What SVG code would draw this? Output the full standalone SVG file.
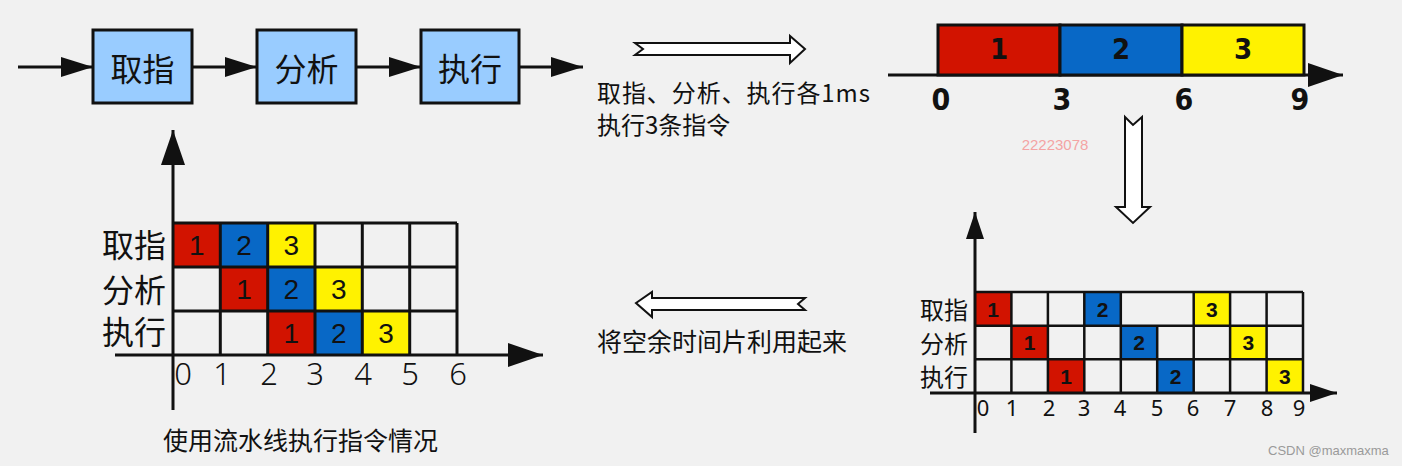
<svg xmlns="http://www.w3.org/2000/svg" width="1402" height="466" viewBox="0 0 1402 466">
<style>
.cjk{font-family:"Noto Sans CJK SC","Noto Sans",sans-serif;fill:#111}
.box{fill:#99ccff;stroke:#111;stroke-width:3}
.ln{stroke:#111;stroke-width:3;fill:none}
.gl{stroke:#111;stroke-width:3;fill:none}
.gr{stroke:#111;stroke-width:2.5;fill:none}
.hol{fill:#fff;stroke:#111;stroke-width:2;stroke-linejoin:miter}
.r{fill:#d21300}.b{fill:#0868c6}.y{fill:#fff200}
.num{font-family:"Liberation Sans",Arial,sans-serif;fill:#111;text-anchor:middle;dominant-baseline:central}
.cn{font-family:"DejaVu Sans Condensed","Liberation Sans",sans-serif;fill:#111;text-anchor:middle;dominant-baseline:central}
</style>
<defs>
<marker id="ah" markerUnits="userSpaceOnUse" markerWidth="32" markerHeight="20" refX="32" refY="10" orient="auto"><path d="M0,0 L32,10 L0,20 z" fill="#111"/></marker>
<marker id="ahL" markerUnits="userSpaceOnUse" markerWidth="35" markerHeight="24" refX="35" refY="12" orient="auto"><path d="M0,0 L35,12 L0,24 z" fill="#111"/></marker>
<marker id="ahS" markerUnits="userSpaceOnUse" markerWidth="27" markerHeight="18" refX="27" refY="9" orient="auto"><path d="M0,0 L27,9 L0,18 z" fill="#111"/></marker>
</defs>
<rect width="1402" height="466" fill="#f1f1f1"/>

<g id="connectors">
<line class="ln" x1="18" y1="67" x2="93" y2="67" marker-end="url(#ah)"/>
<line class="ln" x1="192" y1="67" x2="257" y2="67" marker-end="url(#ah)"/>
<line class="ln" x1="356" y1="67" x2="421" y2="67" marker-end="url(#ah)"/>
<line class="ln" x1="519" y1="67" x2="583" y2="67" marker-end="url(#ah)"/>
<polygon class="hol" points="635,43 790,43 790,36 805,49 790,63 790,55 635,55 643,49"/>
<polygon class="hol" points="636,303 652,292 652,298 805,298 798,304 805,310 652,310 652,317"/>
<polygon class="hol" points="1125,117 1133,125 1142,117 1142,207 1150,207 1133,223 1116,207 1125,207"/>
</g>

<g id="node-fetch"><rect class="box" x="93" y="30" width="99" height="73"/><text class="cjk" x="142.5" y="67" font-size="32" text-anchor="middle" dominant-baseline="central">取指</text></g>
<g id="node-decode"><rect class="box" x="257" y="30" width="99" height="73"/><text class="cjk" x="306.5" y="67" font-size="32" text-anchor="middle" dominant-baseline="central">分析</text></g>
<g id="node-exec"><rect class="box" x="421" y="30" width="98" height="73"/><text class="cjk" x="470" y="67" font-size="32" text-anchor="middle" dominant-baseline="central">执行</text></g>

<g id="note-top">
<text class="cjk" x="597" y="102" font-size="24" textLength="273" lengthAdjust="spacing">取指、分析、执行各1ms</text>
<text class="cjk" x="597" y="134" font-size="24">执行3条指令</text>
</g>

<g id="sequential">
<line class="ln" x1="888" y1="75" x2="1343" y2="75" marker-end="url(#ahL)"/>
<rect class="r" x="938" y="25" width="122" height="50" stroke="#111" stroke-width="3"/>
<rect class="b" x="1060" y="25" width="122" height="50" stroke="#111" stroke-width="3"/>
<rect class="y" x="1182" y="25" width="122" height="50" stroke="#111" stroke-width="3"/>
<g font-weight="bold">
<text class="cn" x="999" y="49" font-size="29">1</text>
<text class="cn" x="1121" y="49" font-size="29">2</text>
<text class="cn" x="1243" y="49" font-size="29">3</text>
<text class="cn" x="941" y="99" font-size="30">0</text>
<text class="cn" x="1062" y="99" font-size="30">3</text>
<text class="cn" x="1184" y="99" font-size="30">6</text>
<text class="cn" x="1300" y="99" font-size="30">9</text>
</g>
</g>

<text x="1055" y="144" font-family="Liberation Sans,Arial,sans-serif" font-size="15" fill="#f4a4a4" text-anchor="middle" dominant-baseline="central">22223078</text>

<g id="pipeline-chart">
<rect class="r" x="173" y="223" width="47.3" height="44"/>
<rect class="b" x="220.3" y="223" width="47.4" height="44"/>
<rect class="y" x="267.7" y="223" width="47.3" height="44"/>
<rect class="r" x="220.3" y="267" width="47.4" height="44"/>
<rect class="b" x="267.7" y="267" width="47.3" height="44"/>
<rect class="y" x="315" y="267" width="47.3" height="44"/>
<rect class="r" x="267.7" y="311" width="47.3" height="44"/>
<rect class="b" x="315" y="311" width="47.3" height="44"/>
<rect class="y" x="362.3" y="311" width="47.4" height="44"/>
<path class="gl" d="M173,223 H457 M173,267 H457 M173,311 H457 M220.3,223 V355 M267.7,223 V355 M315,223 V355 M362.3,223 V355 M409.7,223 V355 M457,223 V355"/>
<line class="ln" x1="173" y1="410" x2="173" y2="130" marker-end="url(#ahL)"/>
<line class="ln" x1="115" y1="355" x2="543" y2="355" marker-end="url(#ahL)"/>
<g class="num" font-size="28">
<text x="196.7" y="245">1</text><text x="244" y="245">2</text><text x="291.3" y="245">3</text>
<text x="244" y="289">1</text><text x="291.3" y="289">2</text><text x="338.7" y="289">3</text>
<text x="291.3" y="333">1</text><text x="338.7" y="333">2</text><text x="386" y="333">3</text>
</g>
<g class="cjk" font-size="32" text-anchor="end" dominant-baseline="central">
<text x="166" y="243">取指</text><text x="166" y="288">分析</text><text x="166" y="330">执行</text>
</g>
<g font-family="Noto Sans,sans-serif" font-size="31" fill="#111" text-anchor="middle" font-weight="300">
<text x="183" y="385">0</text><text x="222" y="385">1</text><text x="269" y="385">2</text><text x="315" y="385">3</text><text x="363" y="385">4</text><text x="410" y="385">5</text><text x="458" y="385">6</text>
</g>
<text class="cjk" x="163" y="450" font-size="25">使用流水线执行指令情况</text>
</g>

<text class="cjk" x="597" y="351" font-size="25">将空余时间片利用起来</text>

<g id="sequential-chart">
<rect class="r" x="975" y="292" width="36.4" height="33.7"/>
<rect class="b" x="1084.3" y="292" width="36.5" height="33.7"/>
<rect class="y" x="1193.7" y="292" width="36.4" height="33.7"/>
<rect class="r" x="1011.4" y="325.7" width="36.5" height="33.6"/>
<rect class="b" x="1120.8" y="325.7" width="36.4" height="33.6"/>
<rect class="y" x="1230.1" y="325.7" width="36.5" height="33.6"/>
<rect class="r" x="1047.9" y="359.3" width="36.4" height="33.7"/>
<rect class="b" x="1157.2" y="359.3" width="36.5" height="33.7"/>
<rect class="y" x="1266.6" y="359.3" width="36.4" height="33.7"/>
<path class="gr" d="M975,292 H1303 M975,325.7 H1303 M975,359.3 H1303 M1011.4,292 V393 M1047.9,292 V393 M1084.3,292 V393 M1120.8,292 V393 M1157.2,325.7 V393 M1193.7,292 V393 M1230.1,292 V393 M1266.6,292 V393 M1303,292 V393"/>
<line class="ln" x1="975" y1="433" x2="975" y2="212" marker-end="url(#ahS)"/>
<line class="ln" x1="930" y1="393" x2="1337" y2="393" marker-end="url(#ahS)"/>
<g class="num" font-size="21" font-weight="bold">
<text x="993.2" y="309">1</text><text x="1102.5" y="309">2</text><text x="1211.9" y="309">3</text>
<text x="1029.6" y="342.5">1</text><text x="1139" y="342.5">2</text><text x="1248.3" y="342.5">3</text>
<text x="1066.1" y="376">1</text><text x="1175.5" y="376">2</text><text x="1284.8" y="376">3</text>
</g>
<g class="cjk" font-size="24" text-anchor="end" dominant-baseline="central">
<text x="968" y="308">取指</text><text x="968" y="342">分析</text><text x="968" y="375">执行</text>
</g>
<g font-family="Noto Sans,sans-serif" font-size="22" fill="#111" text-anchor="middle">
<text x="983" y="416">0</text><text x="1012" y="416">1</text><text x="1049" y="416">2</text><text x="1084" y="416">3</text><text x="1120" y="416">4</text><text x="1157" y="416">5</text><text x="1193" y="416">6</text><text x="1230" y="416">7</text><text x="1267" y="416">8</text><text x="1299" y="416">9</text>
</g>
</g>

<text x="1268" y="455" font-family="Liberation Sans,Arial,sans-serif" font-size="13" fill="#9a9a9a">CSDN @maxmaxma</text>
</svg>
